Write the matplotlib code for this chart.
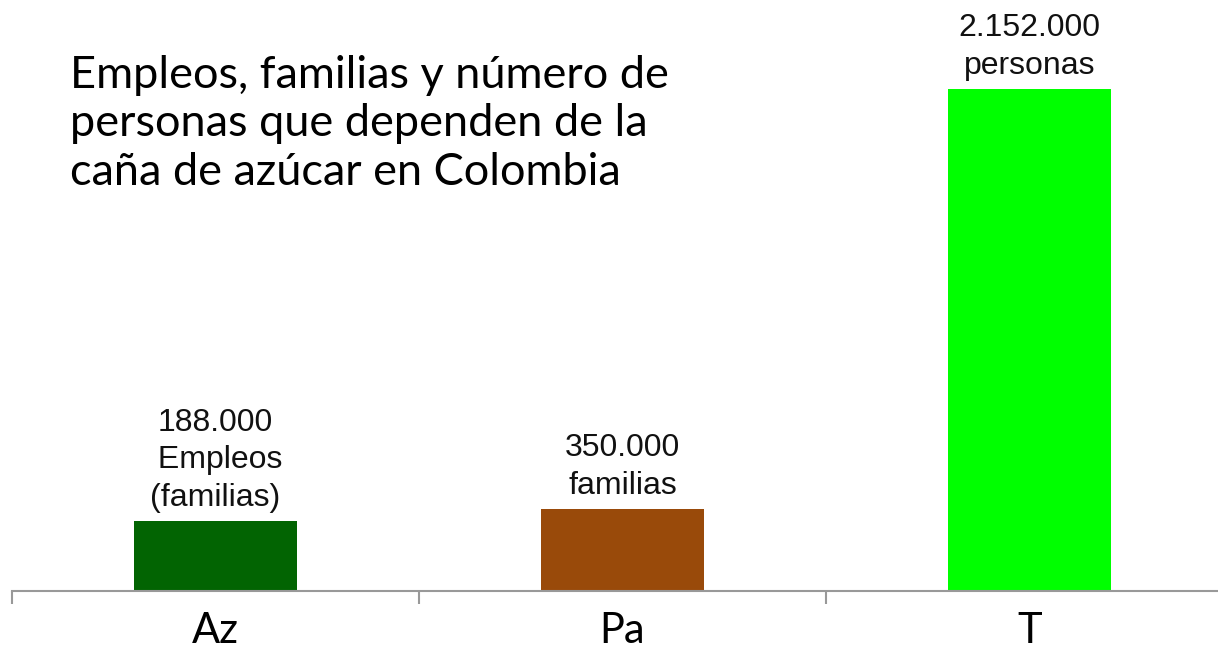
import numpy as np
import matplotlib.pyplot as plt

# categories and bar heights
categories = ["Az", "Pa", "T"]
values = [300000, 350000, 2152000]
labels = ["188.000\n Empleos\n(familias)", "350.000\nfamilias", "2.152.000\npersonas"]
colors = ["#026402", "#994a0a", "#00ff00"]

title = "Empleos, familias y número de\npersonas que dependen de la\ncaña de azúcar en Colombia"

W, H = 1218, 651
fig = plt.figure(figsize=(W / 100, H / 100), dpi=100)

# axes: baseline at y=591 px, category slots 407 px wide starting at x=12
left = 12 / W
bottom = (H - 591) / H
ax = fig.add_axes([left, bottom, 1221 / W, 1 - bottom])

x = np.arange(len(categories))
ax.bar(x, values, width=0.4, color=colors)

ax.set_xlim(-0.5, 2.5)
ax.set_ylim(0, values[2] * 591 / 502)

for xi, v, lab in zip(x, values, labels):
    ax.annotate(lab, (xi, v), xytext=(0, 6), textcoords="offset points",
                ha="center", va="bottom", fontsize=23,
                family="Liberation Sans", linespacing=1.33, color="#111111")

for s in ["top", "right", "left"]:
    ax.spines[s].set_visible(False)
ax.spines["bottom"].set_color("#999999")
ax.spines["bottom"].set_linewidth(1.5)

ax.set_yticks([])
ax.set_xticks([-0.5, 0.5, 1.5, 2.5])
ax.set_xticklabels([])
ax.set_xticks(x, minor=True)
ax.set_xticklabels(categories, minor=True, fontsize=30, family="Lato")
ax.tick_params(axis="x", which="major", length=9, width=1.5, color="#999999")
ax.tick_params(axis="x", which="minor", length=0, pad=15)

fig.text(70 / W, 1 - 55 / H, title, ha="left", va="top", fontsize=32.5,
         family="Lato", linespacing=1.22, color="black")

fig.savefig("out.png", dpi=100)
